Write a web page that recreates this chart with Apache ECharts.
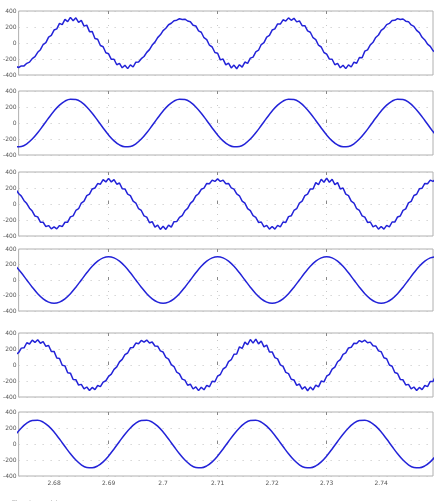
<!DOCTYPE html>
<html><head><meta charset="utf-8">
<script src="https://cdn.jsdelivr.net/npm/echarts@6/dist/echarts.min.js"></script>
<style>html,body{margin:0;padding:0;background:#fff}#c{width:437px;height:501px}</style>
</head><body><div id="c"></div>
<script>
// ---- data ----
const xTickLabels = [2.68, 2.69, 2.70, 2.71, 2.72, 2.73, 2.74];
const xGridTicks = [2.69, 2.71, 2.73];
const xAxisLabel = 'Time (seconds)';
// sampling of the traces
const fineStart = 2.673, fineStep = 0.0005;     // distorted traces
const coarseStart = 2.673, coarseStep = 0.001;  // clean traces

const phaseA_distorted = [
-292,-306,-287,-286,-254,-239,-195,-170,-116,-84,
-19,4,74,95,162,177,245,230,296,268,
320,278,315,258,282,211,223,142,144,56,
46,-31,-47,-122,-135,-204,-203,-272,-254,-310,
-278,-320,-273,-300,-240,-238,-196,-169,-117,-83,
-26,11,67,102,155,184,228,247,279,285,
303,295,298,275,265,221,213,152,134,66,
43,-28,-50,-119,-128,-211,-201,-274,-252,-312,
-276,-322,-271,-302,-238,-255,-189,-176,-110,-90,
-19,4,74,95,162,177,239,236,290,274,
314,284,309,264,276,217,217,152,134,66,
43,-28,-50,-119,-138,-201,-203,-272,-254,-310,
-278,-320,-273,-300,-240,-253,-181,-184,-102,-85,
-24,9,69,100,157,182,230,245,281,283,
305,293,300,273,267,226,208,157,129,71,
38,-15,-42,-95,-120];

const phaseA_clean = [
-298,-293,-260,-201,-122,-31,62,150,223,274,298,293,260,201,122,31,-62,-150,-223,-274,
-298,-293,-260,-201,-122,-31,62,150,223,274,298,293,260,201,122,31,-62,-150,-223,-274,
-298,-293,-260,-201,-122,-31,62,150,223,274,298,293,260,201,122,31,-62,-150,-223,-274,
-298,-293,-260,-201,-122,-31,62,150,223,274,298,293,260,201,122,31,-62,-150];

const phaseB_distorted = [
181,131,98,42,5,-52,-88,-151,-161,-227,
-228,-282,-270,-311,-285,-311,-270,-282,-228,-227,
-161,-148,-81,-59,12,35,105,124,188,200,
255,247,305,276,320,276,305,247,263,192,
188,124,105,35,12,-59,-81,-148,-164,-234,
-221,-289,-263,-318,-278,-318,-263,-289,-221,-220,
-168,-144,-85,-55,8,39,101,128,184,198,
257,253,299,282,314,282,299,253,257,202,
186,126,103,37,10,-57,-83,-146,-166,-230,
-225,-285,-267,-314,-282,-314,-267,-285,-225,-230,
-158,-148,-81,-59,12,35,105,124,188,188,
267,243,309,272,324,272,309,243,267,188,
200,124,105,35,12,-59,-81,-148,-164,-230,
-225,-285,-267,-314,-282,-314,-267,-285,-225,-226,
-162,-150,-79,-61,14,33,107,122,190,198,
257,253,299,282,314];

const phaseB_clean = [
176,93,0,-93,-176,-243,-285,-300,-285,-243,-176,-93,0,93,176,243,285,300,285,243,
176,93,0,-93,-176,-243,-285,-300,-285,-243,-176,-93,0,93,176,243,285,300,285,243,
176,93,0,-93,-176,-243,-285,-300,-285,-243,-176,-93,0,93,176,243,285,300,285,243,
176,93,0,-93,-176,-243,-285,-300,-285,-243,-176,-93,0,93,176,243,285,300];

const phaseC_distorted = [
132,154,211,215,278,262,311,282,316,272,
292,234,243,169,170,87,82,-4,-11,-98,
-102,-182,-183,-251,-242,-298,-275,-318,-280,-308,
-256,-270,-215,-197,-142,-115,-54,-24,39,70,
130,150,215,219,274,266,307,286,312,276,
288,238,235,177,162,95,74,4,-19,-90,
-110,-176,-189,-253,-240,-300,-273,-320,-278,-310,
-254,-272,-203,-209,-138,-119,-50,-28,43,66,
134,138,227,207,286,254,319,274,324,264,
300,226,249,163,164,93,76,2,-17,-92,
-108,-178,-187,-255,-238,-302,-271,-322,-276,-312,
-252,-274,-201,-211,-140,-117,-52,-26,41,68,
132,152,213,221,272,268,305,288,310,278,
286,240,235,177,166,91,78,0,-15,-94,
-106,-180,-185,-249,-242,-298,-275,-318,-280,-308,
-256,-270,-205,-207,-132];

const phaseC_clean = [
122,201,260,293,298,274,223,150,62,-31,-122,-201,-260,-293,-298,-274,-223,-150,-62,31,
122,201,260,293,298,274,223,150,62,-31,-122,-201,-260,-293,-298,-274,-223,-150,-62,31,
122,201,260,293,298,274,223,150,62,-31,-122,-201,-260,-293,-298,-274,-223,-150,-62,31,
122,201,260,293,298,274,223,150,62,-31,-122,-201,-260,-293,-298,-274,-223,-150];

// ---- chart ----
const panels = [
  {vals: phaseA_distorted, start: fineStart, step: fineStep, smooth: false},
  {vals: phaseA_clean, start: coarseStart, step: coarseStep, smooth: 0.4},
  {vals: phaseB_distorted, start: fineStart, step: fineStep, smooth: false},
  {vals: phaseB_clean, start: coarseStart, step: coarseStep, smooth: 0.4},
  {vals: phaseC_distorted, start: fineStart, step: fineStep, smooth: false},
  {vals: phaseC_clean, start: coarseStart, step: coarseStep, smooth: 0.4}
];
const tops = [11, 91, 172, 249, 333, 412];
const heights = [64, 64, 64, 62, 64, 64];
const X_MIN = 2.6735, X_MAX = 2.7495;
const labelColor = '#555';

const grid = [], xAxis = [], yAxis = [], series = [];
panels.forEach((p, i) => {
  grid.push({left: 15, right: 4, top: tops[i], height: heights[i],
    show: true, borderColor: '#b0b0b0', borderWidth: 1, backgroundColor: '#fff'});
  xAxis.push({
    gridIndex: i, type: 'value', min: X_MIN, max: X_MAX,
    axisLine: {show: false},
    axisTick: {show: true, inside: true, length: 3, customValues: xGridTicks,
      lineStyle: {color: '#888'}},
    axisLabel: {show: i === 5, customValues: xTickLabels, fontSize: 6,
      color: labelColor, margin: 4, fontFamily: 'DejaVu Sans',
      formatter: v => String(+(+v).toFixed(2))},
    splitLine: {show: true, lineStyle: {type: [1, 6], color: '#c8c8c8', width: 1}}
  });
  yAxis.push({
    gridIndex: i, type: 'value', min: -400, max: 400, interval: 200,
    axisLine: {show: false}, axisTick: {show: false},
    axisLabel: {fontSize: 6, color: labelColor, margin: 2, fontFamily: 'DejaVu Sans'},
    splitLine: {show: true, lineStyle: {type: [1, 7], color: '#c0c0c0', width: 1}}
  });
  series.push({
    type: 'line', xAxisIndex: i, yAxisIndex: i, showSymbol: false,
    smooth: p.smooth, clip: true,
    lineStyle: {color: '#2323d8', width: 1.5},
    data: p.vals.map((v, k) => [+(p.start + k * p.step).toFixed(4), v])
  });
});
// top tick marks for each panel
panels.forEach((p, i) => {
  xAxis.push({
    gridIndex: i, type: 'value', position: 'top', min: X_MIN, max: X_MAX,
    axisLine: {show: false},
    axisTick: {show: true, inside: true, length: 3, customValues: xGridTicks,
      lineStyle: {color: '#888'}},
    axisLabel: {show: false}, splitLine: {show: false}
  });
});

const chart = echarts.init(document.getElementById('c'), null, {renderer: 'canvas'});
chart.setOption({
  animation: false,
  backgroundColor: '#fff',
  title: {text: xAxisLabel, left: 7, top: 495,
    textStyle: {fontSize: 6, fontWeight: 'normal', color: labelColor, fontFamily: 'DejaVu Sans'}},
  grid, xAxis, yAxis, series
});
</script>
</body></html>
